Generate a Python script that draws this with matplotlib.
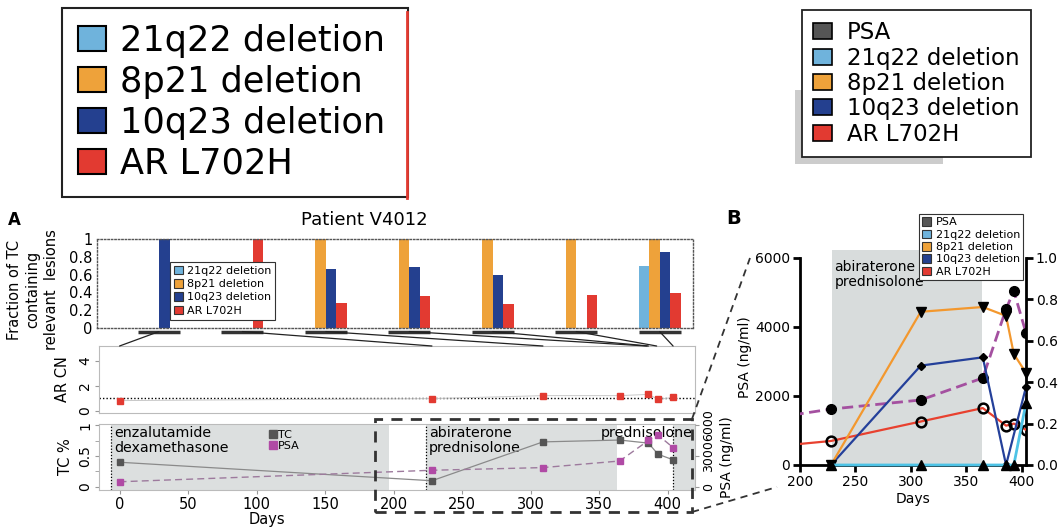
import matplotlib
matplotlib.use("Agg")
import matplotlib.pyplot as plt
import numpy as np
from matplotlib.patches import Patch, Rectangle, ConnectionPatch
from matplotlib.lines import Line2D

# ---------------- data ----------------
lesions = ["21q22 deletion", "8p21 deletion", "10q23 deletion", "AR L702H"]
lesion_colors = ["#6fb3dc", "#eea23a", "#24408f", "#e23a31"]
sample_days = [0, 228, 309, 365, 386, 393, 404]
link_days = [0, 228, 309, 385, 386, 392, 404]
frac_21q22 = [0, 0, 0, 0, 0, 0, 0.70]
frac_8p21 = [0, 0, 1.0, 1.0, 1.0, 1.0, 1.0]
frac_10q23 = [1.0, 0, 0.66, 0.685, 0.60, 0, 0.85]
frac_ar = [0, 1.0, 0.285, 0.36, 0.27, 0.37, 0.39]
ar_cn = [0.8, 0.96, 1.2, 1.2, 1.3, 0.9, 1.05]
tc_frac = [0.40, 0.10, 0.73, 0.76, 0.71, 0.53, 0.44]
psa = [500, 1620, 1880, 2520, 4520, 5040, 3830]

therapy_start = [-6, 224, 404]
therapy_end = [197, 363, 425]
therapy_labels = ["enzalutamide\ndexamethasone", "abiraterone\nprednisolone", "prednisolone"]

b_days = [228, 309, 365, 386, 393, 404]
b_21q22 = [0, 0, 0, 0, 0, 0.30]
b_8p21 = [0, 0.74, 0.763, 0.72, 0.536, 0.445]
b_10q23_days = [228, 309, 365, 386, 404]
b_10q23 = [0, 0.48, 0.52, 0, 0.377]
b_ar_days = [0, 228, 309, 365, 386, 393, 404]
b_ar = [0, 0.116, 0.21, 0.275, 0.19, 0.20, 0.17]
b_psa_days = [0, 228, 309, 365, 386, 393, 404]
b_psa = [500, 1620, 1884, 2522, 4522, 5043, 3826]

W, H = 1064, 528
fig = plt.figure(figsize=(W / 100, H / 100), dpi=100)


def fx(p):
    return p / W


def fy(p):
    return 1 - p / H


def rect(x0, y0, x1, y1):
    return [fx(x0), fy(y1), (x1 - x0) / W, (y1 - y0) / H]


shade = "#dcdfdf"

# ---------------- bar axis ----------------
ax_bar = fig.add_axes(rect(97, 239, 693, 328))
w = 0.126
groups = np.arange(len(sample_days))
for k, (vals, col) in enumerate(zip([frac_21q22, frac_8p21, frac_10q23, frac_ar], lesion_colors)):
    ax_bar.bar(groups + (k - 1.5) * w, vals, width=w, color=col, linewidth=0)
ax_bar.set_xlim(-0.743, 6.40)
ax_bar.set_ylim(0, 1)
ax_bar.set_xticks([])
ax_bar.set_yticks([0, 0.2, 0.4, 0.6, 0.8, 1.0])
ax_bar.set_yticklabels(["0", "0.2", "0.4", "0.6", "0.8", "1"], fontsize=10.5)
ax_bar.tick_params(axis="y", length=0, pad=3)
for s in ax_bar.spines.values():
    s.set_linestyle((0, (1, 1.5)))
    s.set_color("#555555")
    s.set_linewidth(1)
ax_bar.set_ylabel("Fraction of TC\ncontaining\nrelevant  lesions", fontsize=10.5,
                  linespacing=1.3)
ax_bar.yaxis.set_label_coords(-0.064, 0.43)
for g in groups:
    ax_bar.plot([g - 2 * w, g + 2 * w], [-0.04, -0.04], color="#333333", lw=2.5,
                clip_on=False, solid_capstyle="butt")
leg_bar = ax_bar.legend(handles=[Patch(fc=c, ec="#333", lw=0.8) for c in lesion_colors],
                        labels=lesions, loc="upper left", bbox_to_anchor=(fx(170), fy(262)),
                        bbox_transform=fig.transFigure, fontsize=8, fancybox=False,
                        edgecolor="#333", framealpha=1, handlelength=0.8, handleheight=0.8,
                        handletextpad=0.4, labelspacing=0.28, borderpad=0.35, borderaxespad=0)
leg_bar.get_frame().set_linewidth(0.8)

# ---------------- AR CN axis ----------------
ax_cn = fig.add_axes(rect(99, 346, 695, 413))
ax_cn.plot(sample_days, ar_cn, color="#c8c8c8", lw=0.7, marker="s", ms=4,
           mfc="#e23a31", mec="#e23a31", zorder=3)
ax_cn.axhline(1, color="black", ls=(0, (1, 1.5)), lw=1)
ax_cn.set_xlim(-15, 420)
ax_cn.set_ylim(-0.2, 5.2)
ax_cn.set_xticks([])
ax_cn.set_yticks([0, 2, 4])
ax_cn.set_yticklabels(["0", "2", "4"], fontsize=10, rotation=90, va="center")
ax_cn.tick_params(axis="y", length=3, color="#999999", pad=2)
for s in ax_cn.spines.values():
    s.set_color("#bbbbbb")
ax_cn.set_ylabel("AR CN", fontsize=10.5, labelpad=6)

# connection lines from groups to time points
for g, d in zip(groups, link_days):
    con = ConnectionPatch(xyA=(g, -0.04), coordsA=ax_bar.transData,
                          xyB=(d, 1.0), coordsB=ax_cn.get_xaxis_transform(),
                          color="#222222", lw=0.9)
    fig.add_artist(con)

# ---------------- TC axis ----------------
ax_tc = fig.add_axes(rect(99, 424, 695, 490))
for s0, s1 in zip(therapy_start, therapy_end):
    ax_tc.axvspan(s0, s1, color=shade, lw=0, zorder=0)
    ax_tc.axvline(s0, color="black", ls=(0, (1, 1.5)), lw=0.9, zorder=1)
ax_tc.text(therapy_start[0] + 2, 0.99, therapy_labels[0], fontsize=10.3, va="top", ha="left",
           linespacing=1.1)
ax_tc.text(therapy_start[1] + 2, 0.99, therapy_labels[1], fontsize=10.3, va="top", ha="left",
           linespacing=1.1)
ax_tc.text(418, 0.99, therapy_labels[2], fontsize=10.3, va="top", ha="right")
ax_tc.plot(sample_days, tc_frac, color="#8a8a8a", lw=0.9, marker="s", ms=4,
           mfc="#555555", mec="#555555", zorder=3)
ax_tc.set_xlim(-15, 420)
ax_tc.set_ylim(-0.05, 1.02)
ax_tc.set_xticks(np.arange(0, 401, 50))
ax_tc.tick_params(axis="x", labelsize=10.5, length=3, color="#999999", pad=2)
ax_tc.set_yticks([0, 0.5, 1])
ax_tc.set_yticklabels(["0", "0.5", "1"], fontsize=10, rotation=90, va="center")
ax_tc.set_yticks([0.25, 0.75], minor=True)
ax_tc.tick_params(axis="y", which="both", length=3, color="#999999", pad=2)
for s in ax_tc.spines.values():
    s.set_color("#bbbbbb")
ax_tc.set_ylabel("TC %", fontsize=10.5, labelpad=4)
ax_tc.set_xlabel("Days", fontsize=10.5, va="top")
ax_tc.xaxis.set_label_coords(0.282, -0.335)

ax_tc2 = ax_tc.twinx()
ax_tc2.plot(sample_days, psa, color="#9d7a9d", lw=1, ls=(0, (5, 3)), marker="s", ms=4,
            mfc="#b04aa5", mec="#b04aa5", zorder=3)
ax_tc2.set_ylim(-300, 6120)
ax_tc2.set_yticks([0, 3000, 6000])
ax_tc2.set_yticklabels(["0", "3000", "6000"], fontsize=9, rotation=90, va="center")
ax_tc2.tick_params(axis="y", length=3, color="#999999", pad=2)
for s in ax_tc2.spines.values():
    s.set_visible(False)
ax_tc2.set_ylabel("PSA (ng/ml)", fontsize=10, labelpad=4)
ax_tc2.legend(handles=[Line2D([], [], ls="", marker="s", ms=6, mfc="#555555", mec="#555555"),
                       Line2D([], [], ls="", marker="s", ms=6, mfc="#b04aa5", mec="#b04aa5")],
              labels=["TC", "PSA"], loc="upper left", bbox_to_anchor=(fx(270), fy(430)),
              bbox_transform=fig.transFigure, frameon=False, fontsize=8, handlelength=0.6,
              handletextpad=0.1, labelspacing=0.05, borderpad=0, borderaxespad=0)

# zoom box and connectors
fig.add_artist(Rectangle((fx(375), fy(512)), (692 - 375) / W, (512 - 419) / H,
                         transform=fig.transFigure, fill=False, ec="#333333", lw=2,
                         ls=(0, (4, 3))))
fig.add_artist(Line2D([fx(692), fx(750)], [fy(419), fy(258)], transform=fig.transFigure,
                      color="#333333", lw=1.3, ls=(0, (4, 3))))
fig.add_artist(Line2D([fx(692), fx(777)], [fy(512), fy(487)], transform=fig.transFigure,
                      color="#333333", lw=1.3, ls=(0, (4, 3))))

# ---------------- panel B ----------------
ax_b = fig.add_axes(rect(800, 250, 1026, 465))
ax_b.axvspan(229, 364, color="#d8dcdc", lw=0, zorder=0)
ax_b.set_xlim(200, 404)
ytop = 6230
ax_b.set_ylim(0, ytop)
ax_b.plot(b_psa_days, b_psa, color="#a450a0", lw=2, ls=(0, (4, 2)), marker="o", ms=7,
          mfc="black", mec="black", zorder=3)
ax_b2 = ax_b.twinx()
ax_b2.set_ylim(0, ytop / 6000)
ax_b2.plot(b_ar_days, b_ar, color="#e8412f", lw=1.6, marker="o", ms=7, mfc="none",
           mec="black", mew=1.8, zorder=3)
ax_b2.plot(b_10q23_days, b_10q23, color="#24409a", lw=1.6, marker="D", ms=4.5, mfc="black",
           mec="black", zorder=4, clip_on=False)
ax_b2.plot(b_days, b_8p21, color="#f3982e", lw=1.6, marker="v", ms=7, mfc="black",
           mec="black", zorder=4, clip_on=False)
ax_b2.plot(b_days, b_21q22, color="#4ec3e6", lw=2, marker="^", ms=6.5, mfc="black",
           mec="black", zorder=5, clip_on=False)

ax_b.spines["top"].set_visible(False)
ax_b.spines["right"].set_visible(False)
ax_b.spines["left"].set_linewidth(2)
ax_b.spines["left"].set_bounds(0, 6000)
ax_b.spines["bottom"].set_linewidth(2)
for s in ["top", "left", "bottom"]:
    ax_b2.spines[s].set_visible(False)
ax_b2.spines["right"].set_linewidth(2)
ax_b2.spines["right"].set_bounds(0, 1)
ax_b.set_xticks([200, 250, 300, 350, 400])
ax_b.set_yticks([0, 2000, 4000, 6000])
ax_b2.set_yticks([0, 0.2, 0.4, 0.6, 0.8, 1.0])
ax_b2.set_yticklabels(["0.0", "0.2", "0.4", "0.6", "0.8", "1.0"])
for a in (ax_b, ax_b2):
    a.tick_params(labelsize=10, width=2, length=5, pad=2)
ax_b.set_ylabel("PSA (ng/ml)", fontsize=10, labelpad=2)
ax_b.set_xlabel("Days", fontsize=10, labelpad=2)
ax_b.text(231, 5950, "abiraterone\nprednisolone", fontsize=10, va="top", ha="left",
          linespacing=1.15, zorder=6)
b_handles = [Patch(fc=c, ec="#333", lw=0.8) for c in ["#555555"] + lesion_colors]
leg_b = ax_b2.legend(handles=b_handles, labels=["PSA"] + lesions, loc="upper left",
                     bbox_to_anchor=(fx(919), fy(214)), bbox_transform=fig.transFigure,
                     fontsize=8, fancybox=False, edgecolor="#333", framealpha=1,
                     handlelength=0.8, handleheight=0.8, handletextpad=0.4, labelspacing=0.2,
                     borderpad=0.3, borderaxespad=0)
leg_b.get_frame().set_linewidth(0.8)
leg_b.set_zorder(10)

# panel labels and title
fig.text(fx(8), fy(220), "A", fontsize=12, fontweight="bold", va="center", ha="left")
fig.text(fx(726), fy(219), "B", fontsize=14, fontweight="bold", va="center", ha="left")
fig.text(fx(364), fy(220), "Patient V4012", fontsize=13, va="center", ha="center")

# ---------------- top legends ----------------
fig.add_artist(Rectangle((fx(795), fy(164)), (943 - 795) / W, (164 - 90) / H,
                         transform=fig.transFigure, color="#cccccc", lw=0, zorder=0))
leg1 = fig.legend(handles=[Patch(fc=c, ec="black", lw=1.5) for c in lesion_colors],
                  labels=lesions, loc="upper left",
                  bbox_to_anchor=(fx(62), fy(196), (408 - 62) / W, (196 - 8) / H),
                  mode="expand",
                  bbox_transform=fig.transFigure, fontsize=25.3, fancybox=False,
                  edgecolor="#222", framealpha=1, handlelength=0.8, handleheight=0.7,
                  handletextpad=0.4, labelspacing=0.2, borderpad=0.45, borderaxespad=0)
leg1.get_frame().set_linewidth(1.5)
red_edge = Line2D([fx(407), fx(407)], [fy(12), fy(198)], transform=fig.transFigure,
                  color="#e23a31", lw=2)
red_edge.set_zorder(20)
fig.add_artist(red_edge)
leg2 = fig.legend(handles=[Patch(fc=c, ec="black", lw=1.2) for c in ["#555555"] + lesion_colors],
                  labels=["PSA"] + lesions, loc="upper left", bbox_to_anchor=(fx(802), fy(10)),
                  bbox_transform=fig.transFigure, fontsize=16.5, fancybox=False,
                  edgecolor="#222", framealpha=1, handlelength=0.8, handleheight=0.7,
                  handletextpad=0.65, labelspacing=0.1, borderpad=0.5, borderaxespad=0)
leg2.get_frame().set_linewidth(1.3)

fig.savefig("out.png", dpi=100)
